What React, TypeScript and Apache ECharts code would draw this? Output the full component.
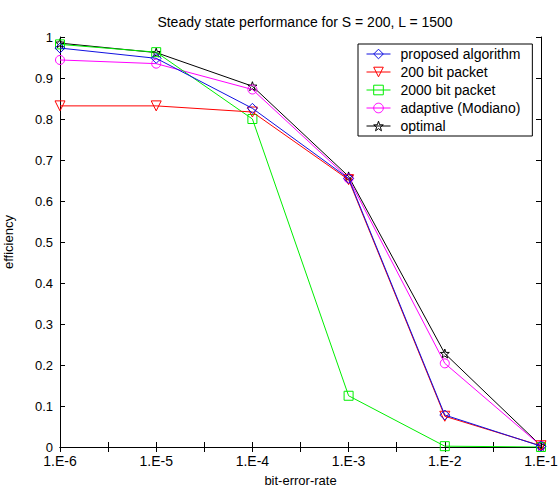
import React, { useEffect, useRef } from "react";
import * as echarts from "echarts";

const xValues = [-6, -5, -4, -3, -2, -1];
const seriesNames = ["proposed algorithm", "200 bit packet", "2000 bit packet", "adaptive (Modiano)", "optimal"];
const proposed = [0.973, 0.948, 0.826, 0.655, 0.078, 0.002];
const packet200 = [0.832, 0.832, 0.817, 0.652, 0.075, 0.003];
const packet2000 = [0.982, 0.963, 0.800, 0.125, 0.002, 0.0];
const adaptive = [0.944, 0.935, 0.872, 0.655, 0.204, 0.003];
const optimal = [0.985, 0.962, 0.880, 0.660, 0.228, 0.003];

const colors = ["#1010e0", "#ff0000", "#00ee00", "#ff00ff", "#000000"];
const STAR = "path://M0,-10L2.35,-3.24L9.51,-3.09L3.8,1.24L5.88,8.09L0,4L-5.88,8.09L-3.8,1.24L-9.51,-3.09L-2.35,-3.24Z";
const TRI_DOWN = "path://M0,0L10,0L5,10Z";
const symbols = ["diamond", TRI_DOWN, "rect", "circle", STAR];
const sizes = [10, 10, 9, 9, 9];
const allData = [proposed, packet200, packet2000, adaptive, optimal];

const FONT = "Liberation Sans, Arial, sans-serif";

export default function App() {
  const ref = useRef<HTMLDivElement>(null);
  useEffect(() => {
    if (!ref.current) return;
    const chart = echarts.init(ref.current, null, { renderer: "svg" });
    const axisLine = { show: true, lineStyle: { color: "#000", width: 1 } };
    const axisTick = { show: true, inside: true, length: 5, lineStyle: { color: "#000" } };
    chart.setOption({
      animation: false,
      backgroundColor: "#fff",
      textStyle: { fontFamily: FONT },
      title: {
        text: "Steady state performance for S = 200, L = 1500",
        left: 300,
        textAlign: "center",
        top: 10,
        textStyle: { fontFamily: FONT, fontSize: 14, fontWeight: "normal", color: "#000" },
      },
      legend: {
        left: 358,
        top: 44,
        orient: "vertical",
        data: seriesNames,
        itemWidth: 24,
        itemHeight: 12,
        itemGap: 4,
        padding: [3, 12, 3, 8],
        borderColor: "#000",
        borderWidth: 1,
        backgroundColor: "#fff",
        lineStyle: { width: 1 },
        itemStyle: { color: "rgba(255,255,255,0)", borderWidth: 1 },
        textStyle: { fontFamily: FONT, fontSize: 14, color: "#000", padding: [0, 0, 0, 5] },
      },
      grid: { left: 60, right: 19, top: 37, bottom: 43, containLabel: false, outerBoundsMode: "none" },
      xAxis: [
        {
          type: "value",
          min: -6,
          max: -1,
          interval: 0.5,
          position: "bottom",
          name: "bit-error-rate",
          nameLocation: "middle",
          nameGap: 27,
          nameTextStyle: { fontFamily: FONT, fontSize: 13, color: "#000" },
          axisLine,
          axisTick,
          splitLine: { show: false },
          axisLabel: {
            margin: 7,
            fontFamily: FONT,
            fontSize: 14,
            lineHeight: 14,
            color: "#000",
            showMinLabel: true,
            showMaxLabel: true,
            formatter: (v: number) => (Number.isInteger(v) ? "1.E" + v : ""),
          },
        },
        {
          type: "value",
          min: -6,
          max: -1,
          interval: 0.5,
          position: "top",
          axisLine,
          axisTick,
          splitLine: { show: false },
          axisLabel: { show: false },
        },
      ],
      yAxis: [
        {
          type: "value",
          min: 0,
          max: 1,
          interval: 0.1,
          position: "left",
          name: "efficiency",
          nameLocation: "middle",
          nameGap: 45,
          nameTextStyle: { fontFamily: FONT, fontSize: 13, color: "#000" },
          axisLine,
          axisTick,
          splitLine: { show: false },
          axisLabel: {
            margin: 7,
            fontFamily: FONT,
            fontSize: 13,
            lineHeight: 12,
            color: "#000",
            formatter: (v: number) => (Math.abs(v - 1) < 1e-9 ? "1" : Math.abs(v) < 1e-9 ? "0" : v.toFixed(1)),
          },
        },
        {
          type: "value",
          min: 0,
          max: 1,
          interval: 0.1,
          position: "right",
          axisLine,
          axisTick,
          splitLine: { show: false },
          axisLabel: { show: false },
        },
      ],
      series: seriesNames.map((name, i) => ({
        name,
        type: "line",
        xAxisIndex: 0,
        yAxisIndex: 0,
        data: xValues.map((x, j) => [x, allData[i][j]]),
        symbol: symbols[i],
        symbolSize: sizes[i],
        showAllSymbol: true,
        lineStyle: { color: colors[i], width: 1 },
        itemStyle: { color: "rgba(255,255,255,0)", borderColor: colors[i], borderWidth: 1 },
        emphasis: { disabled: true },
        z: 10 - i,
      })),
    });
    return () => chart.dispose();
  }, []);
  return <div ref={ref} style={{ width: 560, height: 490, position: "absolute", left: 0, top: 0 }} />;
}
